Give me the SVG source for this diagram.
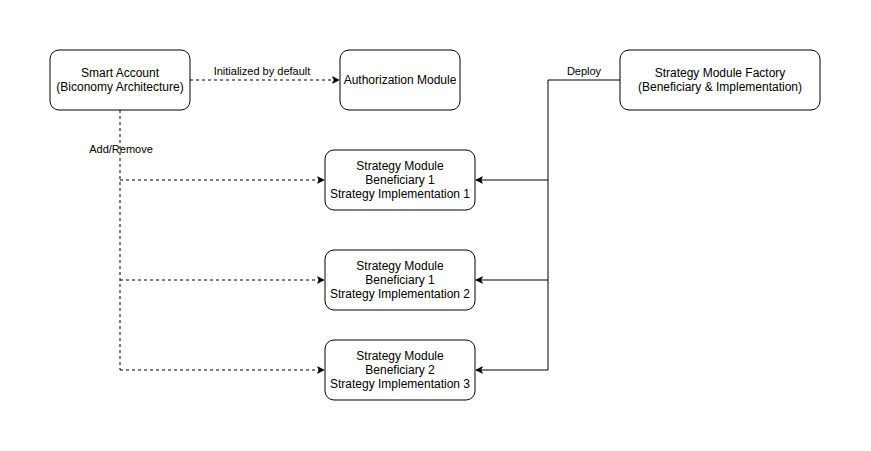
<svg xmlns="http://www.w3.org/2000/svg" width="871" height="451" viewBox="0 0 871 451">
<style>
.n{fill:#fff;stroke:#000;stroke-width:1}
.t{font-family:"Liberation Sans",Arial,sans-serif;font-size:12px;fill:#000;text-anchor:middle}
.l{font-family:"Liberation Sans",Arial,sans-serif;font-size:11px;fill:#000;text-anchor:middle}
.d{fill:none;stroke:#000;stroke-width:1;stroke-dasharray:3,3}
.s{fill:none;stroke:#000;stroke-width:1}
</style>
<defs>
<marker id="a" viewBox="0 0 10 10" refX="9" refY="5" markerWidth="8" markerHeight="8" markerUnits="userSpaceOnUse" orient="auto">
<path d="M1,1 L9,5 L1,9 L3,5 Z" fill="#000" stroke="#000" stroke-width="1"/>
</marker>
</defs>
<rect width="871" height="451" fill="#fff"/>
<g id="connectors">
<path class="d" d="M190,80 H339" marker-end="url(#a)"/>
<path class="d" d="M120,110 V370"/>
<path class="d" d="M120,180 H324" marker-end="url(#a)"/>
<path class="d" d="M120,280 H324" marker-end="url(#a)"/>
<path class="d" d="M120,370 H324" marker-end="url(#a)"/>
<path class="s" d="M620,80 H548 V370"/>
<path class="s" d="M548,180 H476" marker-end="url(#a)"/>
<path class="s" d="M548,280 H476" marker-end="url(#a)"/>
<path class="s" d="M548,370 H476" marker-end="url(#a)"/>
<text class="l" x="262" y="75">Initialized by default</text>
<text class="l" x="121" y="153">Add/Remove</text>
<text class="l" x="584" y="75">Deploy</text>
</g>
<g id="smart-account">
<rect class="n" x="50" y="50" width="140" height="60" rx="9"/>
<text class="t" x="120" y="77">Smart Account</text>
<text class="t" x="120" y="91">(Biconomy Architecture)</text>
</g>
<g id="authorization-module">
<rect class="n" x="340" y="50" width="120" height="60" rx="9"/>
<text class="t" x="400" y="84">Authorization Module</text>
</g>
<g id="factory">
<rect class="n" x="620" y="50" width="200" height="60" rx="9"/>
<text class="t" x="720" y="77">Strategy Module Factory</text>
<text class="t" x="720" y="91">(Beneficiary &amp; Implementation)</text>
</g>
<g id="strategy-1">
<rect class="n" x="325" y="150" width="150" height="60" rx="9"/>
<text class="t" x="400" y="170">Strategy Module</text>
<text class="t" x="400" y="184">Beneficiary 1</text>
<text class="t" x="400" y="198">Strategy Implementation 1</text>
</g>
<g id="strategy-2">
<rect class="n" x="325" y="250" width="150" height="60" rx="9"/>
<text class="t" x="400" y="270">Strategy Module</text>
<text class="t" x="400" y="284">Beneficiary 1</text>
<text class="t" x="400" y="298">Strategy Implementation 2</text>
</g>
<g id="strategy-3">
<rect class="n" x="325" y="340" width="150" height="60" rx="9"/>
<text class="t" x="400" y="360">Strategy Module</text>
<text class="t" x="400" y="374">Beneficiary 2</text>
<text class="t" x="400" y="388">Strategy Implementation 3</text>
</g>
</svg>
